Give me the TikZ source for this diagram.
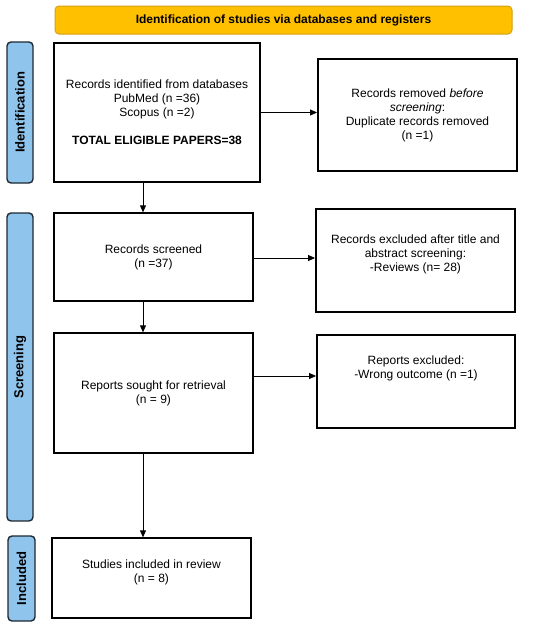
\documentclass[tikz,border=0pt]{standalone}
\usepackage{fontspec}
\setmainfont{Liberation Sans}
\usetikzlibrary{arrows.meta,calc}
\definecolor{bannerfill}{RGB}{255,192,0}
\definecolor{bannerdraw}{RGB}{214,160,20}
\definecolor{sidefill}{RGB}{143,196,236}
\definecolor{sidedraw}{RGB}{30,40,50}
\begin{document}
\begin{tikzpicture}[x=1pt,y=-1pt,
  font=\fontsize{12}{14}\selectfont,
  lbox/.style={draw=black,line width=1.3pt,fill=white,align=center,inner sep=2pt},
  rbox/.style={draw=black,line width=1.9pt,fill=white,align=center,inner sep=2pt},
  side/.style={draw=sidedraw,line width=1.4pt,fill=sidefill,rounded corners=4pt,inner sep=0pt},
  sidetext/.style={rotate=90,font=\fontsize{13}{15}\selectfont\bfseries},
  arr/.style={line width=0.8pt,-{Triangle[length=7pt,width=6pt]}}
]
\useasboundingbox (0,0) rectangle (550,625);
% banner
\node[draw=bannerdraw,line width=1pt,fill=bannerfill,rounded corners=4pt,minimum width=457pt,minimum height=28pt,font=\fontsize{12}{14}\selectfont\bfseries] (banner) at (283.5,20) {Identification of studies via databases and registers};
% side labels
\node[side,minimum width=26pt,minimum height=141pt] (sid) at (20,112.5) {};
\node[sidetext] (sidt) at (sid.center) {Identification};
\node[side,minimum width=26pt,minimum height=308pt] (sscr) at (20,367) {};
\node[sidetext] (sscrt) at (sscr.center) {Screening};
\node[side,minimum width=27pt,minimum height=85pt] (sinc) at (21.5,578.5) {};
\node[sidetext] (sinct) at (sinc.center) {Included};
% boxes
\node[lbox,minimum width=206pt,minimum height=139pt] (b1) at (157,112.5) {Records identified from databases\\PubMed (n =36)\\Scopus (n =2)\\[14pt]\textbf{TOTAL ELIGIBLE PAPERS=38}};
\node[rbox,minimum width=199pt,minimum height=112pt] (b2) at (417.5,115) {Records removed \textit{before}\\\textit{screening}:\\ Duplicate records removed\\(n =1)};
\node[lbox,minimum width=199pt,minimum height=88pt] (b3) at (153.5,257) {Records screened\\(n =37)};
\node[rbox,minimum width=199pt,minimum height=103pt] (b4) at (415.5,260.5) {Records excluded after title and\\abstract screening:\\-Reviews (n= 28)\\\mbox{}};
\node[lbox,minimum width=199pt,minimum height=120pt] (b5) at (153.5,393) {Reports sought for retrieval\\(n = 9)};
\node[rbox,minimum width=198pt,minimum height=93pt] (b6) at (416,381.5) {Reports excluded:\\-Wrong outcome (n =1)\\\mbox{}\\\mbox{}};
\node[lbox,minimum width=199pt,minimum height=80pt] (b7) at (151.5,578) {Studies included in review\\(n = 8)\\\mbox{}};
% connectors
\coordinate (cx) at (143,0);
\draw[arr] (b1.east) -- (b1.east -| b2.west);
\draw[arr] (b1.south -| cx) -- (b3.north -| cx);
\draw[arr] ($(b3.east)+(0,1)$) -- ($(b3.east -| b4.west)+(0,1)$);
\draw[arr] (b3.south -| cx) -- (b5.north -| cx);
\draw[arr] ($(b5.east)+(0,-17)$) -- ($(b5.east -| b6.west)+(0,-17)$);
\draw[arr] (b5.south -| cx) -- (b7.north -| cx);
\end{tikzpicture}
\end{document}
